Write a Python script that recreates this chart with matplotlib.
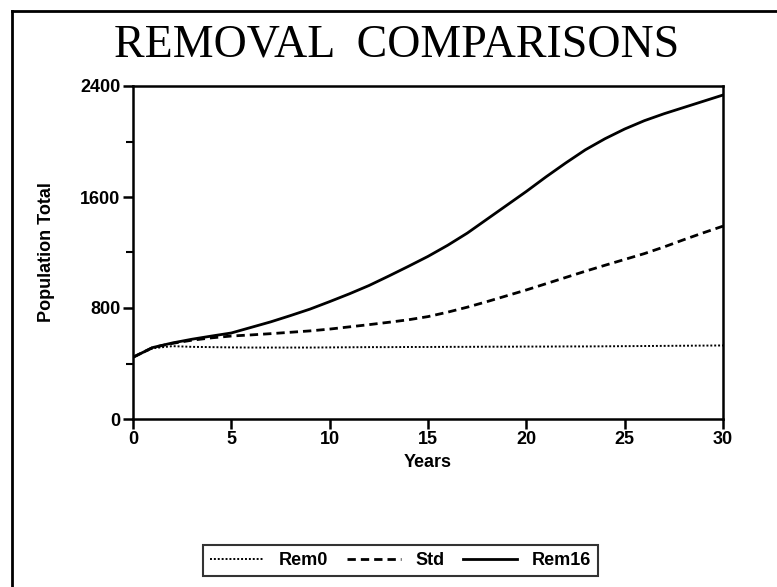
import matplotlib
matplotlib.use("Agg")
import matplotlib.pyplot as plt
from matplotlib.lines import Line2D
from matplotlib.ticker import MultipleLocator

years = list(range(0, 31))
rem0 = [445, 510, 525, 520, 518, 516, 515, 515, 515, 515, 516, 517, 518, 518, 519,
        519, 520, 520, 521, 521, 522, 522, 523, 523, 524, 525, 526, 527, 528, 529, 530]
std = [445, 515, 545, 568, 585, 598, 606, 615, 625, 635, 648, 664, 680, 697, 715,
       738, 770, 806, 846, 888, 930, 975, 1020, 1065, 1108, 1150, 1192, 1240, 1292, 1342, 1390]
rem16 = [445, 515, 548, 575, 598, 620, 660, 700, 745, 792, 846, 902, 962, 1030, 1100,
         1172, 1252, 1340, 1440, 1540, 1640, 1745, 1845, 1940, 2020, 2090, 2150, 2200, 2245, 2290, 2335]
series_labels = ["Rem0", "Std", "Rem16"]
xticks = [0, 5, 10, 15, 20, 25, 30]
yticks = [0, 800, 1600, 2400]

W, H = 777, 587
fig = plt.figure(figsize=(W / 100, H / 100), dpi=100)
ax = fig.add_axes([133 / W, 1 - 419 / H, (723 - 133) / W, (419 - 86) / H])

sans = ["Liberation Sans", "DejaVu Sans"]
ax.plot(years, rem0, color="black", lw=1.4, linestyle=(0, (1, 1)), label=series_labels[0])
ax.plot(years, std, color="black", lw=2.0, linestyle=(0, (3, 1.8)), label=series_labels[1])
ax.plot(years, rem16, color="black", lw=2.0, linestyle="-", label=series_labels[2])

ax.set_xlim(0, 30)
ax.set_ylim(0, 2400)
ax.set_xticks(xticks)
ax.set_yticks(yticks)
ax.yaxis.set_minor_locator(MultipleLocator(400))
for s in ax.spines.values():
    s.set_linewidth(1.8)
ax.tick_params(axis="both", which="major", direction="out", length=7, width=1.8,
               labelsize=13, pad=2)
ax.tick_params(axis="y", which="minor", direction="out", length=5, width=1.5)
for lab in ax.get_xticklabels() + ax.get_yticklabels():
    lab.set_fontfamily(sans)
    lab.set_fontweight("bold")

ax.set_xlabel("Years", fontsize=13, fontweight="bold", family=sans, labelpad=4)
ax.set_ylabel("Population Total", fontsize=13, fontweight="bold", family=sans, labelpad=18)

fig.text(0.51, 1 - 45 / H, "REMOVAL  COMPARISONS", ha="center", va="center",
         fontsize=33, family=["Liberation Serif", "DejaVu Serif"])

# outer frame (left and top edges)
fig.add_artist(Line2D([12 / W, 12 / W], [0, 1 - 11 / H], transform=fig.transFigure,
                      color="black", lw=2))
fig.add_artist(Line2D([12 / W, 1], [1 - 11 / H, 1 - 11 / H], transform=fig.transFigure,
                      color="black", lw=2))

leg = fig.legend(loc="center", bbox_to_anchor=(203 / W, 1 - 582 / H, 395 / W, 43 / H),
                 mode="expand", ncol=3, frameon=True, fancybox=False, handlelength=3.0,
                 prop={"family": sans, "weight": "bold", "size": 13}, borderaxespad=0)
leg.get_frame().set_edgecolor("black")
leg.get_frame().set_linewidth(1.5)

fig.savefig("out.png", dpi=100)
